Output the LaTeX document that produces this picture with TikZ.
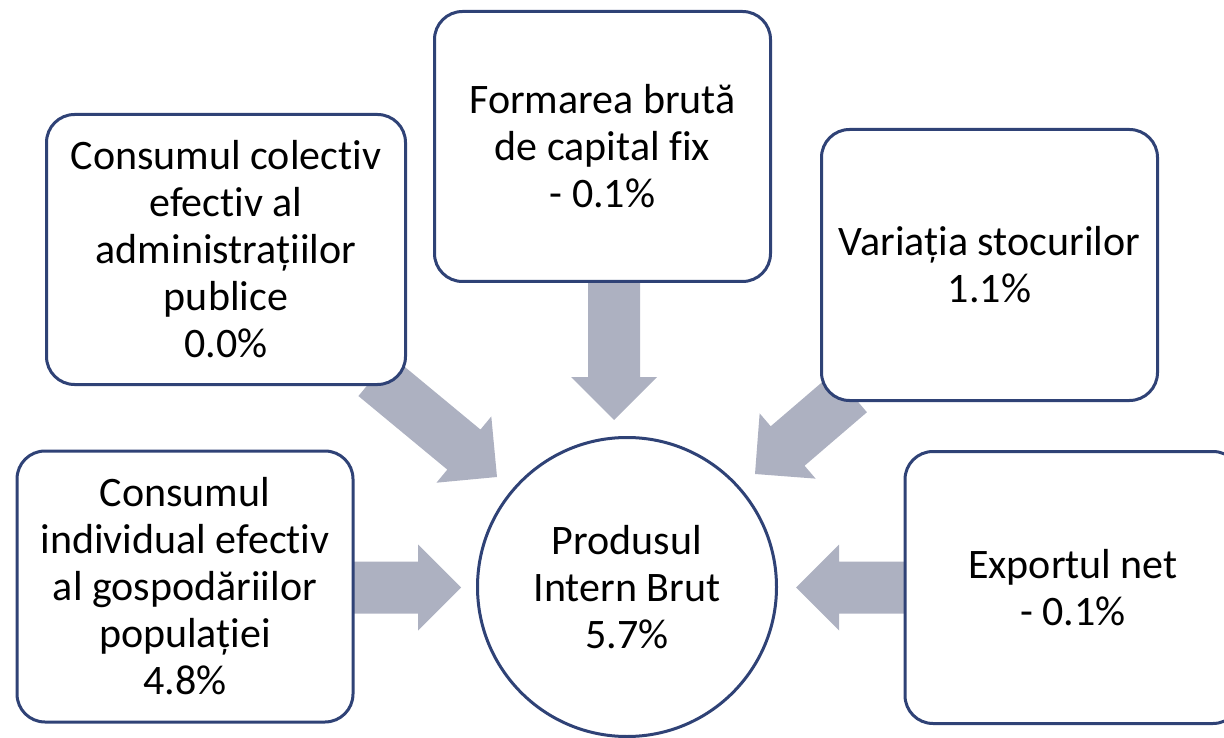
\documentclass[tikz,border=0pt]{standalone}
\usepackage{fontspec}
\setmainfont{Carlito}[Ligatures={NoCommon,NoRare,NoDiscretionary}]
\usetikzlibrary{calc,backgrounds}
\definecolor{navy}{RGB}{47,66,118}
\definecolor{arrowgray}{RGB}{173,177,193}
\tikzset{
  box/.style={draw=navy, line width=3pt, fill=white, rounded corners=28pt,
    align=center, inner sep=0pt, font=\fontsize{42}{47}\selectfont},
  hub/.style={circle, draw=navy, line width=3pt, fill=white, align=center,
    inner sep=0pt, minimum size=299pt, font=\fontsize{42}{47}\selectfont},
  blockarr/.style={fill=arrowgray, draw=none}
}
\newcommand{\blockarrow}[2]{%
  \coordinate (hb) at ($(#2)!43pt!(#1)$);
  \fill[blockarr] ($(#1)!26pt!90:(#2)$) -- ($(hb)!26pt!-90:(#1)$) --
    ($(hb)!43pt!-90:(#1)$) -- (#2) -- ($(hb)!43pt!90:(#1)$) --
    ($(hb)!26pt!90:(#1)$) -- ($(#1)!26pt!-90:(#2)$) -- cycle;}
\begin{document}
\begin{tikzpicture}[x=1pt,y=-1pt]
\useasboundingbox (0,0) rectangle (1224,738);
% boxes
\node[box, minimum width=359pt, minimum height=270pt] (tl) at (226,249.5)
  {Consumul colectiv\\efectiv al\\administrațiilor\\publice\\0.0\%};
\node[box, minimum width=336pt, minimum height=270pt] (tc) at (602.5,146.5)
  {Formarea brută\\de capital fix\\- 0.1\%};
\node[box, minimum width=336pt, minimum height=271pt] (tr) at (989.5,265)
  {Variația stocurilor\\1.1\%};
\node[box, minimum width=336pt, minimum height=271pt] (bl) at (185,586.5)
  {Consumul\\individual efectiv\\al gospodăriilor\\populației\\4.8\%};
\node[box, minimum width=336pt, minimum height=272pt] (br) at (1073,587.5)
  {Exportul net\\- 0.1\%};
\node[hub] (pib) at (627,587) {Produsul\\Intern Brut\\5.7\%};
% arrow ends
\coordinate (sL) at (345,587.5);   \coordinate (eL) at (461,587.5);
\coordinate (sR) at (912,587.5);   \coordinate (eR) at (796,587.5);
\coordinate (sD) at (614,275);     \coordinate (eD) at (614,420);
\coordinate (sTL) at (375,376);    \coordinate (eTL) at (497,477);
\coordinate (sTR) at (850,392.5);  \coordinate (eTR) at (755,474);
\begin{scope}[on background layer]
  \blockarrow{sL}{eL}
  \blockarrow{sR}{eR}
  \blockarrow{sD}{eD}
  \blockarrow{sTL}{eTL}
  \blockarrow{sTR}{eTR}
\end{scope}
\end{tikzpicture}
\end{document}
